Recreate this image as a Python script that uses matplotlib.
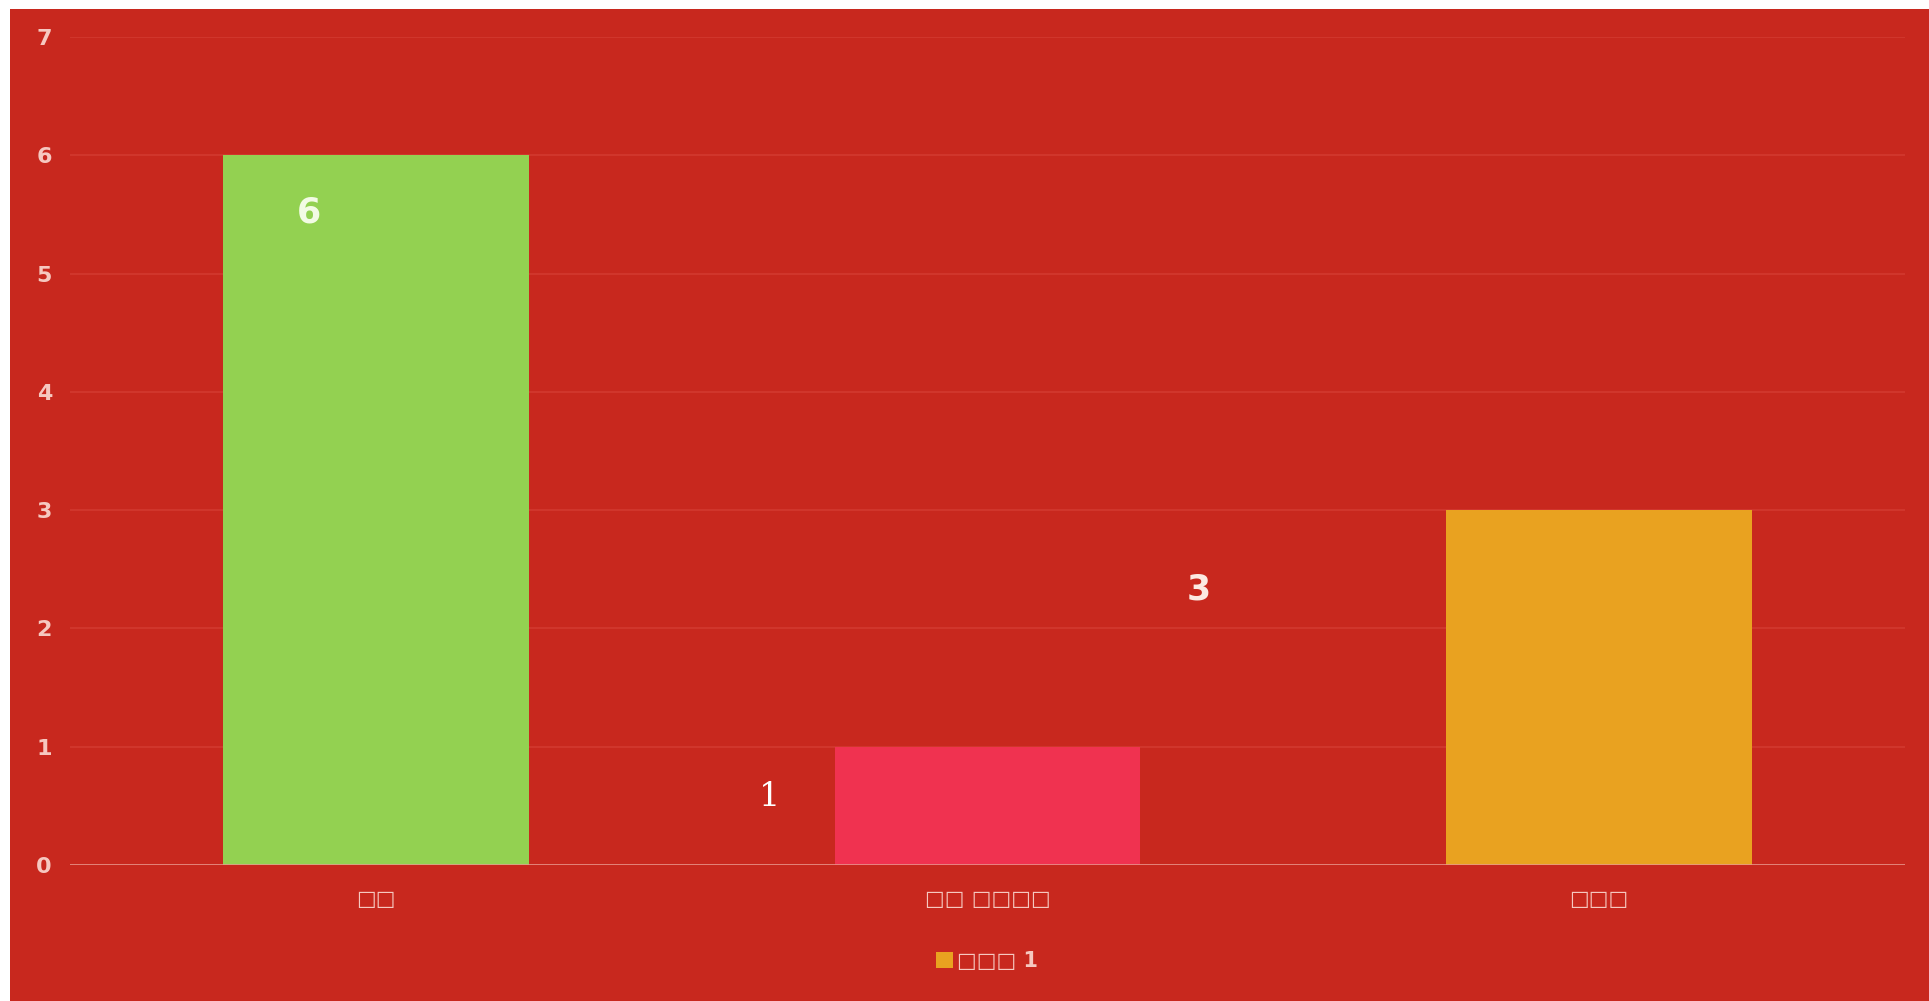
import matplotlib
matplotlib.use("Agg")
import matplotlib.pyplot as plt
from matplotlib.patches import Rectangle, Patch

categories = ["□□", "□□ □□□□", "□□□"]
values = [6, 1, 3]
bar_colors = ["#93D151", "#F03250", "#E9A220"]
series_name = "□□□ 1"
yticks = [0, 1, 2, 3, 4, 5, 6, 7]
# displaced data-label positions (offset from bar centre, absolute y)
label_dx = [-0.11, -0.356, -0.655]
label_y = [5.52, 0.575, 2.33]
label_style = [
    dict(fontfamily="DejaVu Sans", fontweight="bold", color="#F2FBE4", fontsize=25),
    dict(fontfamily="DejaVu Serif", fontweight="normal", color="#FFFFFF", fontsize=24),
    dict(fontfamily="DejaVu Sans", fontweight="bold", color="#FCE9E2", fontsize=25),
]

BG = "#C8281E"
TXT = "#F6C8C0"

fig = plt.figure(figsize=(19.29, 10.01), dpi=100, facecolor="white")
bgrect = Rectangle((10 / 1929, 0.0), 1 - 10 / 1929, 1 - 9 / 1001,
                   transform=fig.transFigure, facecolor=BG,
                   edgecolor="none", zorder=-10)
fig.patches.append(bgrect)
ax = fig.add_axes([70 / 1929, 136 / 1001, (1905 - 70) / 1929, 828 / 1001])
ax.set_facecolor("none")
ax.set_zorder(5)

x = list(range(len(categories)))
ax.bar(x, values, width=0.5, color=bar_colors, zorder=3)
ax.set_xlim(-0.5, 2.5)
ax.set_ylim(0, 7)
ax.set_yticks(yticks)
ax.set_yticklabels([str(t) for t in yticks], fontsize=16, fontweight="bold",
                   color=TXT, fontfamily="DejaVu Sans")
ax.set_xticks(x)
ax.set_xticklabels(categories, fontsize=15, color=TXT, fontfamily="DejaVu Sans",
                   fontweight="bold")
ax.tick_params(axis="y", length=0, pad=13)
ax.tick_params(axis="x", length=0, pad=17)
for s in ax.spines.values():
    s.set_visible(False)
ax.grid(axis="y", color="#D23A2F", linewidth=1.2, zorder=1)
ax.axhline(0, color="#E89A90", linewidth=1.8, zorder=4)

for i, v in enumerate(values):
    ax.text(x[i] + label_dx[i], label_y[i], str(v), ha="center", va="center",
            zorder=5, **label_style[i])

leg = fig.legend(handles=[Patch(facecolor="#E9A220", edgecolor="none", label=series_name)],
                 loc="center", bbox_to_anchor=(987 / 1929, 1 - 961 / 1001),
                 frameon=False, fontsize=15, handlelength=0.8, handleheight=0.8,
                 handletextpad=0.2, labelcolor=TXT, prop=dict(weight="bold", size=15))
leg.set_zorder(6)

fig.savefig("out.png", dpi=100, facecolor=fig.get_facecolor())
